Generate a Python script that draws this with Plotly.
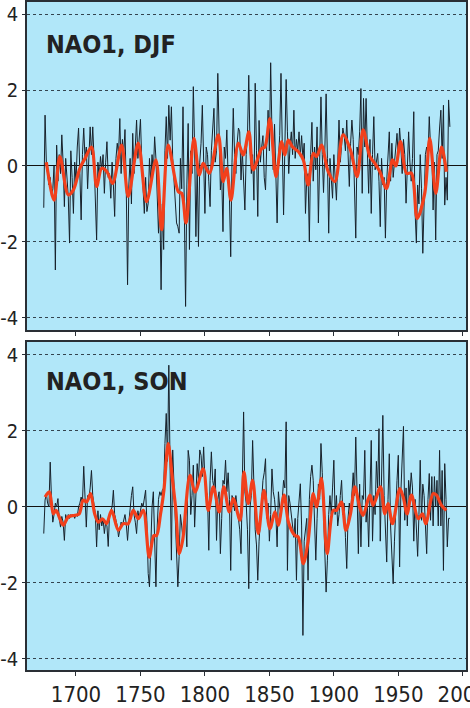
import plotly.graph_objects as go

start_year = 1675
years = list(range(1675, 1991))

djf_values = [
    -1.1, 1.34, 0.1, -0.2, -0.5, -0.3, -0.8, -0.6, 0.0, -2.74,
    0.55, -0.4, 0.3, -0.2, 0.82, 0.1, -1.07, 0.2, -0.5, -0.8,
    -2.03, 0.4, -0.3, -1.25, 0.1, -0.4, 0.5, 1.0, -0.2, -1.42,
    0.3, 1.0, 0.2, 0.5, -0.6, 0.4, 1.03, 0.3, 1.03, 0.2,
    -0.8, -1.95, 0.1, -0.3, 0.25, -0.1, 0.3, -0.72, 0.1, 0.64,
    -0.3, -0.2, -0.85, 0.1, -0.5, -1.33, 0.2, 0.6, 0.3, 1.25,
    -0.2, 0.7, 0.3, 0.96, -0.6, -3.13, -0.5, 0.2, -1.0, 0.86,
    -0.2, 0.4, 1.21, 0.2, 0.68, 1.23, 0.1, -0.6, -1.25, -0.3,
    -1.2, -0.98, 0.2, -0.4, 0.3, -0.2, 0.77, 0.2, -0.6, -1.77,
    -0.9, -3.26, -1.0, -2.2, 0.4, 1.3, 0.2, 1.6, 0.68, 1.56,
    0.2, -0.3, -0.8, -1.5, -1.6, -1.77, 0.2, -0.6, 1.56, -1.2,
    -3.7, -0.5, 1.12, -2.2, 0.4, -0.2, 2.09, 0.5, -1.86, 0.0,
    -2.12, 0.1, 0.6, 1.6, -0.2, -1.25, 0.5, 0.3, -0.4, -1.07,
    0.4, 0.9, 1.52, 0.1, 0.4, 2.44, 0.3, -0.63, -0.2, -1.73,
    0.5, 0.2, 0.95, -0.3, -0.8, -2.39, 0.1, 1.52, 0.3, -0.2,
    0.6, 1.0, 0.9, -0.37, 0.4, -0.5, -1.16, 0.3, 0.8, 2.39,
    0.5, -0.2, 0.3, -0.9, 2.18, 0.4, -1.33, 1.2, 0.1, 0.5,
    0.8, -0.3, -0.63, 0.6, 1.47, 0.4, 2.72, 0.9, -0.1, 1.1,
    -0.5, -1.5, 0.2, 0.8, 2.44, 0.3, -1.29, 0.5, 2.28, 0.9,
    -0.2, 0.5, 0.9, 0.3, 1.47, 0.2, 0.7, 0.4, 0.9, 0.25,
    0.8, 0.2, 0.6, -1.25, -0.3, -0.2, -2.0, 0.3, 1.15, -0.4,
    0.5, -0.1, 1.03, -1.5, 0.6, 1.82, 0.3, -0.7, 0.4, 1.9,
    0.2, -1.77, 0.2, -0.3, -0.85, 0.3, -0.2, -0.9, 0.1, 1.21,
    0.1, 0.6, 1.0, 0.8, 0.4, 1.21, 0.3, -0.54, 0.6, 1.21,
    0.7, -0.4, -1.9, 0.5, 0.3, 0.9, 2.04, -0.72, 1.78, 0.5,
    1.78, 0.4, -0.72, 0.7, -1.25, 0.3, 1.3, -0.1, 0.2, 0.33,
    -0.4, -1.6, 0.2, -0.5, -0.3, -1.9, -0.4, 0.2, 0.9, -0.4,
    0.6, -0.3, 0.1, 0.3, 0.86, 0.2, 1.0, 0.5, -0.2, 0.7,
    0.3, -0.98, 0.2, 0.9, 0.1, -0.4, 0.2, 1.43, -1.2, -2.03,
    -0.5, -1.0, 0.3, -0.6, -2.3, -0.5, 0.3, 0.5, 0.2, 1.3,
    0.5, 0.4, -1.16, 0.1, -1.95, 0.3, 0.4, 1.0, 1.47, 0.2,
    1.6, -1.03, -0.3, -0.9, 1.74, 1.03,
]

son_values = [
    -0.7, 0.18, 0.35, 0.1, 0.0, 1.18, 0.2, -0.4, -0.2, 0.1,
    0.0, 0.22, -0.3, -0.53, -0.25, -0.4, -0.88, -0.2, -0.35, -0.2,
    -0.3, -0.2, -0.25, -0.2, -0.3, -0.2, -0.25, 0.0, 0.1, 0.26,
    0.1, 1.07, 0.26, -0.53, 0.3, 0.2, 0.5, 0.96, 0.3, 0.0,
    -0.2, -1.05, -0.1, -0.6, -0.2, -0.5, -0.3, -0.7, -0.4, -0.5,
    -1.04, -0.2, -0.1, 0.0, 0.44, -0.2, -0.35, -0.5, -0.79, -0.6,
    -0.4, -0.5, -0.3, -0.2, -0.45, -0.88, -0.4, 0.0, 0.3, 0.53,
    -0.2, -0.4, -0.7, -0.1, -0.3, -0.1, 0.1, 0.0, 0.2, 0.44,
    -0.4, -1.75, -2.1, -1.05, 0.0, 0.4, -1.05, -2.1, -0.5, 0.2,
    0.4, 0.3, 0.44, 0.5, 1.67, 2.46, 1.2, 3.73, 1.0, -1.4,
    1.5, 0.7, -0.2, -1.3, -2.1, -1.3, -0.2, -0.5, -0.88, -0.5,
    -0.3, -1.05, 1.49, 1.23, -0.2, 0.3, 1.1, -0.53, 0.4, 1.14,
    0.7, 1.5, 1.36, 0.8, 1.58, 0.7, 0.4, 0.3, -1.14, 0.7,
    1.45, 0.7, 0.5, 1.0, -0.88, 0.2, 0.4, -1.23, -0.3, 0.7,
    0.6, 1.23, 0.4, 0.9, 0.2, -1.67, 0.3, 0.2, -0.1, 0.3,
    0.0, -0.35, -0.6, -1.23, 1.05, 2.5, 0.4, 0.1, -0.6, -2.15,
    0.0, 0.3, 1.75, 0.7, -0.6, -1.0, -1.93, -0.9, -0.3, 0.2,
    0.7, 0.9, 1.27, -0.3, 0.1, -0.9, -0.2, 1.0, 0.4, 0.2,
    -0.2, -1.05, 0.4, 0.0, -0.2, 0.2, 0.7, 0.5, 2.24, -1.67,
    0.3, 0.1, -0.2, -0.5, -0.8, -0.3, -1.93, -0.3, 0.2, 0.61,
    -0.5, -3.38, -0.9, -0.5, -0.3, -1.93, 0.2, 0.8, 1.1, 0.7,
    -0.2, -1.4, -0.3, 0.6, 0.2, 1.67, 0.9, -0.2, -1.4, -2.24,
    -1.4, -0.2, 0.3, -0.2, 0.5, 1.23, -0.2, 0.3, -0.5, -0.2,
    0.3, 0.7, -0.2, 0.1, -0.8, -1.62, -0.3, 0.1, -0.2, 0.5,
    0.9, 0.3, 1.84, 0.4, -1.23, 0.6, -1.05, 0.3, 0.2, 1.49,
    -0.4, 0.1, -1.05, 0.3, 1.75, -0.9, 0.3, -0.2, 1.2, 0.5,
    2.06, -0.9, 0.4, 2.41, 0.3, -0.5, -1.45, 0.2, 1.4, -0.5,
    -1.2, -2.02, -0.9, 0.1, 0.7, 1.36, -1.58, 0.4, 1.2, 2.12,
    -0.35, 0.5, -0.5, 0.7, 0.3, 0.9, 0.5, -0.9, 0.2, -0.6,
    -1.3, -0.2, 1.23, -0.35, 0.6, 0.3, -0.7, -1.23, 0.2, 0.88,
    -0.35, 0.8, -0.5, 0.8, 0.0, 0.7, -0.5, 1.49, -0.5, 0.96,
    -1.67, 1.14, 0.2, -1.05, -0.3, -0.3,
]

djf_smooth_years = [
    1677, 1683, 1687.5, 1694, 1698, 1703, 1707, 1712, 1716, 1720,
    1724, 1728.4, 1735.4, 1740.5, 1748.3, 1754.7, 1762, 1766.4, 1771.5, 1779.4,
    1782, 1785.3, 1791.5, 1795.6, 1798.7, 1803.4, 1810.4, 1814.2, 1816.8, 1820.2,
    1825.9, 1829.7, 1834.1, 1837.5, 1844, 1846.5, 1850.4, 1855.1, 1859.5, 1862,
    1864.6, 1868, 1872.4, 1876.3, 1880.1, 1884, 1886.6, 1890.4, 1895.6, 1900.8,
    1907.2, 1912.9, 1918.1, 1922.7, 1927.9, 1931.8, 1935.7, 1940.8, 1945.5, 1948,
    1951.7, 1956.3, 1960.2, 1964.6, 1970.5, 1974.4, 1979.1, 1983.5, 1987.3,
]
djf_smooth_values = [
    0.1, -0.9, 0.25, -0.76, -0.63, -0.06, 0.2, 0.5, -0.54, -0.06,
    -0.15, -0.46, 0.55, -0.8, 0.6, -0.94, 0.16, -1.68, 0.55, -0.68,
    -0.72, -1.5, 0.73, -0.24, 0.07, -0.19, 0.82, -0.41, -0.06, -0.9,
    0.6, 0.29, 0.9, -0.1, 0.46, 0.5, 1.25, -0.28, 0.64, 0.29,
    0.68, 0.5, 0.38, 0.16, -0.5, 0.33, 0.25, 0.55, -0.15, -0.41,
    0.82, 0.42, -0.28, 0.95, 0.25, 0.07, -0.15, -0.59, 0.16, 0.0,
    0.64, -0.19, -0.19, -1.38, -0.72, 0.73, -0.72, 0.5, -0.15,
]

son_smooth_years = [
    1676, 1679.3, 1682.4, 1684.5, 1690.1, 1694, 1699.2, 1702.5, 1705.6, 1708.2,
    1711.3, 1714.5, 1717.3, 1720.6, 1723.7, 1727.6, 1732.8, 1736.7, 1740.5, 1744.4,
    1748.3, 1752.2, 1756.8, 1760.4, 1762.5, 1765.6, 1768.2, 1771.5, 1774.9, 1777.5,
    1780.1, 1782.7, 1788.4, 1792.3, 1798.7, 1802.6, 1806.5, 1811.1, 1814.7, 1818.9,
    1822, 1827.2, 1830.3, 1833.6, 1837, 1841.4, 1845.8, 1850.4, 1854.3, 1856.9,
    1861.4, 1864.8, 1869.8, 1872.4, 1876.3, 1880.1, 1884, 1886.6, 1890.4, 1894.8,
    1899.5, 1902, 1905.9, 1909.3, 1912.9, 1916.3, 1920, 1922.7, 1927.9, 1930.5,
    1936.2, 1939.5, 1942, 1945.5, 1951.2, 1953.8, 1956.8, 1960.2, 1965.4, 1968.7,
    1971.3, 1977, 1979.6, 1983.5, 1987.3,
]
son_smooth_values = [
    0.26, 0.4, -0.18, -0.09, -0.48, -0.26, -0.22, -0.18, 0.18, 0.13,
    0.35, -0.18, -0.4, -0.31, -0.44, -0.09, -0.61, -0.44, -0.44, -0.09,
    -0.31, -0.09, -1.32, -0.75, -0.75, -0.18, 0.44, 1.67, 0.7, -0.1,
    -1.23, -0.88, 0.83, 0.39, 1.0, -0.09, 0.53, -0.13, 0.53, -0.13,
    0.22, -0.35, 0.92, 0.09, 0.7, -0.7, 0.44, -0.57, -0.13, -0.48,
    0.31, -0.4, -0.75, -0.79, -1.49, -0.88, 0.35, 0.0, 0.75, -1.23,
    -0.09, -0.09, 0.13, -0.61, -0.18, 0.53, 0.0, -0.22, 0.31, 0.04,
    0.53, -0.18, 0.09, -0.44, 0.48, 0.26, -0.18, 0.31, -0.31, -0.18,
    -0.44, 0.35, 0.31, 0.04, -0.09,
]

panel_titles = ["NAO1, DJF", "NAO1, SON"]
y_ticks = [-4, -2, 0, 2, 4]
y_ticktext = ["-4", "-2", "0", "2", "4"]
x_ticks = [1700, 1750, 1800, 1850, 1900, 1950, 2000]

BG = "#b1e7f9"
FRAME = "#2a2f35"
BLACK = "#17212b"
RED = "#f2401c"
NARROW = "DejaVu Sans Condensed, Liberation Sans Narrow, Arial Narrow, Liberation Sans, sans-serif"

fig = go.Figure()

panels = [
    ("x", "y", djf_values, djf_smooth_years, djf_smooth_values),
    ("x2", "y2", son_values, son_smooth_years, son_smooth_values),
]
for xa, ya, vals, sy, sv in panels:
    fig.add_trace(go.Scatter(x=years, y=vals, mode="lines", xaxis=xa, yaxis=ya,
                             line=dict(color=BLACK, width=1), showlegend=False,
                             hoverinfo="skip"))
    fig.add_trace(go.Scatter(x=sy, y=sv, mode="lines", xaxis=xa, yaxis=ya,
                             line=dict(color=RED, width=3.2, shape="spline", smoothing=0.9),
                             showlegend=False, hoverinfo="skip"))

common_x = dict(range=[1662, 2002.5], showgrid=False, zeroline=False, automargin=False,
                showline=True, linecolor=FRAME, linewidth=1.5, mirror=True,
                tickvals=x_ticks, ticks="outside", ticklen=4, tickwidth=1,
                tickcolor=FRAME)
common_y = dict(showgrid=True, gridcolor="#33444f", gridwidth=1, griddash="3px,3px",
                zeroline=True, zerolinecolor="#111111", zerolinewidth=1.2, automargin=False,
                showline=True, linecolor=FRAME, linewidth=1.5, mirror=True,
                tickvals=y_ticks, ticktext=y_ticktext, ticks="outside", ticklen=3,
                tickwidth=1, tickcolor=FRAME,
                tickfont=dict(family=NARROW, size=20, color="#222222"))

fig.update_layout(
    width=470, height=708,
    margin=dict(l=27, r=4, t=2, b=38, autoexpand=False),
    paper_bgcolor="white",
    plot_bgcolor=BG,
    xaxis=dict(common_x, domain=[0, 1], anchor="y", showticklabels=False),
    yaxis=dict(common_y, domain=[0.509, 1.0], range=[-4.32, 4.32], anchor="x"),
    xaxis2=dict(common_x, domain=[0, 1], anchor="y2", showticklabels=True,
                ticklabeloverflow="allow",
                tickfont=dict(family=NARROW, size=22, color="#222222")),
    yaxis2=dict(common_y, domain=[0.0, 0.491], range=[-4.29, 4.34], anchor="x2"),
)

fig.add_annotation(x=1675.5, y=3.2, xref="x", yref="y", text="<b>" + panel_titles[0] + "</b>",
                   showarrow=False, xanchor="left", yanchor="middle",
                   font=dict(family=NARROW, size=25, color="#222222"))
fig.add_annotation(x=1675.5, y=3.3, xref="x2", yref="y2", text="<b>" + panel_titles[1] + "</b>",
                   showarrow=False, xanchor="left", yanchor="middle",
                   font=dict(family=NARROW, size=25, color="#222222"))

fig.write_html("out.html")
